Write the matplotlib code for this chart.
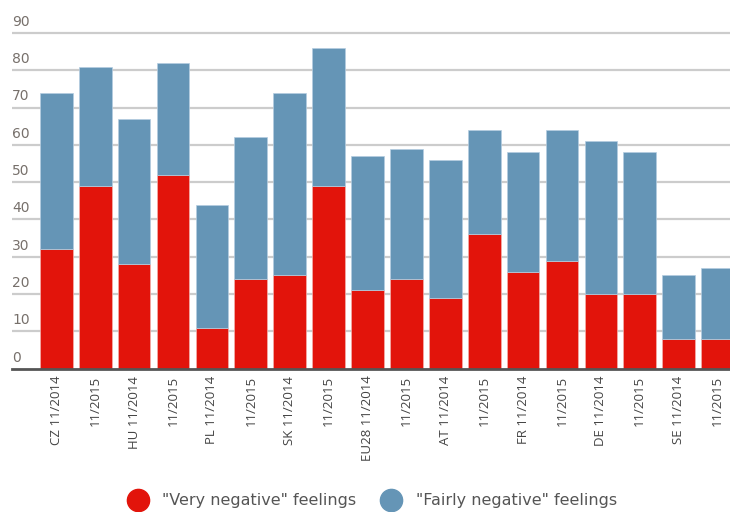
import matplotlib
matplotlib.use("Agg")
import matplotlib.pyplot as plt
from matplotlib.lines import Line2D
import matplotlib.transforms as mtransforms

categories = ["CZ 11/2014", "11/2015", "HU 11/2014", "11/2015", "PL 11/2014", "11/2015",
              "SK 11/2014", "11/2015", "EU28 11/2014", "11/2015", "AT 11/2014", "11/2015",
              "FR 11/2014", "11/2015", "DE 11/2014", "11/2015", "SE 11/2014", "11/2015"]
totals = [74, 81, 67, 82, 44, 62, 74, 86, 57, 59, 56, 64, 58, 64, 61, 58, 25, 27]
very_negative = [32, 49, 28, 52, 11, 24, 25, 49, 21, 24, 19, 36, 26, 29, 20, 20, 8, 8]
fairly_negative = [t - v for t, v in zip(totals, very_negative)]
y_ticks = [0, 10, 20, 30, 40, 50, 60, 70, 80, 90]
legend_labels = ['"Very negative" feelings', '"Fairly negative" feelings']

RED = "#e2140b"
BLUE = "#6595b6"

plt.rcParams['font.family'] = ['Open Sans', 'DejaVu Sans']

W, H = 730, 512
fig = plt.figure(figsize=(W / 100, H / 100), dpi=100)
left_px, bottom_px, top_px = 12, 368.7, 21.8
ax = fig.add_axes([left_px / W, 1 - bottom_px / H, 1 - left_px / W, (bottom_px - top_px) / H])

x = list(range(len(categories)))
ax.bar(x, very_negative, width=0.84, color=RED, edgecolor="#f4b0ac", linewidth=0.5, zorder=3)
ax.bar(x, fairly_negative, width=0.84, bottom=very_negative, color=BLUE,
       edgecolor="#b5cde0", linewidth=0.5, zorder=3)

ax.set_xlim(-1.14, 17.32)
ax.set_ylim(0, 93)

for t in y_ticks:
    if t > 0:
        ax.axhline(t, color="#cccccc", linewidth=1.6, zorder=1)
trans = mtransforms.blended_transform_factory(ax.transAxes, ax.transData)
for t in y_ticks:
    ax.annotate(str(t), xy=(0, t), xycoords=trans, xytext=(0, 3), textcoords="offset points",
                ha="left", va="bottom", fontsize=10, color="#77706b",
                family=["DejaVu Sans"])

for s in ["top", "right", "left"]:
    ax.spines[s].set_visible(False)
ax.spines["bottom"].set_color("#555555")
ax.spines["bottom"].set_linewidth(2)
ax.spines["bottom"].set_zorder(4)

ax.set_yticks([])
ax.set_xticks(x)
ax.set_xticklabels(categories, rotation=90, fontsize=9.5, color="#444444")
ax.tick_params(axis="x", length=0, pad=5)

handles = [Line2D([], [], marker="o", linestyle="none", markersize=16, color=RED),
           Line2D([], [], marker="o", linestyle="none", markersize=16, color=BLUE)]
fig.legend(handles, legend_labels, loc="center", bbox_to_anchor=(372 / W, 1 - 501 / H),
           ncol=2, frameon=False, prop={"family": ["DejaVu Sans"], "size": 11.5},
           labelcolor="#555555", handletextpad=0.9, columnspacing=1.5, handlelength=1.3)

fig.savefig("out.png", dpi=100)
